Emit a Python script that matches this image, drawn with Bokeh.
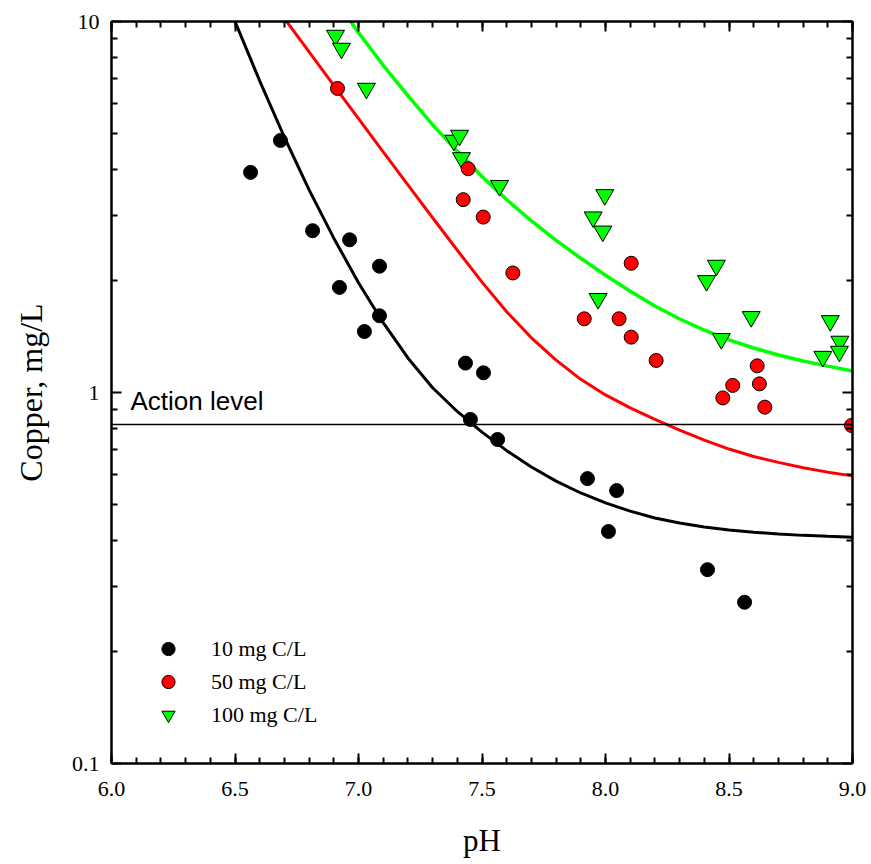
from bokeh.plotting import figure
from bokeh.models import (FixedTicker, LinearAxis, LogAxis, Span, Legend,
                          LegendItem, Label)
from bokeh.embed import file_html
from bokeh.resources import INLINE

# ---------------- data ----------------
# measured points
ph_10 = [6.563, 6.684, 6.814, 6.923, 6.964, 7.024, 7.085, 7.085, 7.433, 7.506,
         7.453, 7.563, 7.927, 8.045, 8.012, 8.413, 8.563]
cu_10 = [3.92, 4.78, 2.73, 1.92, 2.58, 1.46, 2.19, 1.61, 1.20, 1.13,
         0.846, 0.747, 0.586, 0.544, 0.422, 0.333, 0.272]

ph_50 = [6.915, 7.444, 7.424, 7.505, 7.625, 8.104, 7.914, 8.055, 8.104, 8.205,
         8.614, 8.515, 8.623, 8.475, 8.645, 8.996]
cu_50 = [6.6, 4.01, 3.31, 2.97, 2.10, 2.23, 1.58, 1.58, 1.41, 1.22,
         1.18, 1.045, 1.055, 0.967, 0.913, 0.815]

ph_100 = [6.907, 6.931, 7.032, 7.386, 7.409, 7.417, 7.571, 7.997, 7.950, 7.989,
          7.970, 8.449, 8.409, 8.590, 8.469, 8.910, 8.949, 8.947, 8.880]
cu_100 = [9.17, 8.46, 6.6, 4.78, 4.93, 4.29, 3.61, 3.41, 2.97, 2.72,
          1.79, 2.20, 2.00, 1.60, 1.396, 1.56, 1.373, 1.29, 1.25]

# fitted curves
fit_ph_10 = [6.45, 6.5, 6.6, 6.7, 6.8, 6.9, 7.0, 7.1, 7.2, 7.3, 7.4, 7.5, 7.6,
             7.7, 7.8, 7.9, 8.0, 8.1, 8.2, 8.3, 8.4, 8.5, 8.6, 8.7, 8.8, 8.9, 9.0]
fit_cu_10 = [12.05, 10.0, 6.918, 4.875, 3.516, 2.606, 1.977, 1.542, 1.239, 1.030,
             0.889, 0.782, 0.697, 0.630, 0.577, 0.536, 0.504, 0.479, 0.459,
             0.445, 0.434, 0.426, 0.420, 0.4154, 0.412, 0.4095, 0.4074]

fit_ph_50 = [6.7, 6.8, 6.9, 7.0, 7.1, 7.2, 7.3, 7.4, 7.5, 7.6, 7.7, 7.8, 7.9,
             8.0, 8.1, 8.2, 8.3, 8.4, 8.5, 8.6, 8.7, 8.8, 8.9, 9.0]
fit_cu_50 = [10.19, 8.279, 6.730, 5.470, 4.451, 3.627, 2.958, 2.418, 1.984,
             1.650, 1.404, 1.223, 1.085, 0.985, 0.909, 0.846, 0.792, 0.744,
             0.704, 0.672, 0.648, 0.627, 0.610, 0.596]

fit_ph_100 = [6.9, 7.0, 7.1, 7.2, 7.3, 7.4, 7.5, 7.6, 7.7, 7.8, 7.9, 8.0, 8.1,
              8.2, 8.3, 8.4, 8.5, 8.6, 8.7, 8.8, 8.9, 9.0]
fit_cu_100 = [11.61, 9.33, 7.62, 6.31, 5.27, 4.47, 3.82, 3.31, 2.90, 2.57, 2.30,
              2.070, 1.875, 1.710, 1.578, 1.472, 1.387, 1.318, 1.262, 1.216,
              1.178, 1.143]

action_level = 0.82
action_label = "Action level"
action_label_x = 6.077
action_label_y = 0.95

series_labels = ["10 mg C/L", "50 mg C/L", "100 mg C/L"]
x_title = "pH"
y_title = "Copper, mg/L"

x_major = [6.0, 6.5, 7.0, 7.5, 8.0, 8.5, 9.0]
x_minor = [round(6.0 + 0.1 * i, 1) for i in range(31)]
x_labels = ["6.0", "6.5", "7.0", "7.5", "8.0", "8.5", "9.0"]
y_major = [0.1, 1, 10]
y_minor = [0.2, 0.3, 0.4, 0.5, 0.6, 0.7, 0.8, 0.9, 2, 3, 4, 5, 6, 7, 8, 9]
y_labels = ["0.1", "1", "10"]

SERIF = "Liberation Serif"
SANS = "Liberation Sans"

# ---------------- figure ----------------
p = figure(width=868, height=862, x_range=(6.0, 9.0), y_range=(0.1, 10),
           y_axis_type="log", output_backend="svg", toolbar_location=None,
           min_border_left=111, min_border_right=16, min_border_top=21,
           min_border_bottom=99)
p.grid.visible = False
p.outline_line_color = None
p.background_fill_color = "white"
p.border_fill_color = "white"


def style_axis(ax, ticker, labels_on, overrides=None):
    ax.ticker = ticker
    ax.axis_line_width = 2.5
    ax.axis_line_color = "black"
    ax.major_tick_in = 10
    ax.major_tick_out = 0
    ax.minor_tick_in = 6
    ax.minor_tick_out = 0
    ax.major_tick_line_width = 2
    ax.minor_tick_line_width = 2
    ax.major_tick_line_color = "black"
    ax.minor_tick_line_color = "black"
    if labels_on:
        ax.major_label_text_font = SERIF
        ax.major_label_text_font_size = "22px"
        ax.major_label_text_color = "black"
        if overrides:
            ax.major_label_overrides = overrides
    else:
        ax.major_label_text_font_size = "8px"
        ax.major_label_text_alpha = 0
        ax.major_label_standoff = 0


xt = FixedTicker(ticks=x_major, minor_ticks=x_minor)
yt = FixedTicker(ticks=y_major, minor_ticks=y_minor)

bottom = p.below[0]
style_axis(bottom, xt, True, {v: s for v, s in zip(x_major, x_labels)})
bottom.major_label_standoff = 18
bottom.axis_label = x_title
bottom.axis_label_text_font = SERIF
bottom.axis_label_text_font_size = "31px"
bottom.axis_label_text_font_style = "normal"
bottom.axis_label_text_color = "black"
bottom.axis_label_standoff = 24

left = p.left[0]
style_axis(left, yt, True, {v: s for v, s in zip(y_major, y_labels)})
left.major_label_standoff = 12
left.axis_label = y_title
left.axis_label_text_font = SERIF
left.axis_label_text_font_size = "32px"
left.axis_label_text_font_style = "normal"
left.axis_label_text_color = "black"
left.axis_label_standoff = 20

top = LinearAxis()
style_axis(top, FixedTicker(ticks=x_major, minor_ticks=x_minor), False)
p.add_layout(top, "above")

right = LogAxis()
style_axis(right, FixedTicker(ticks=y_major, minor_ticks=y_minor), False)
p.add_layout(right, "right")

# action level
p.add_layout(Span(location=action_level, dimension="width", line_color="black",
                  line_width=1.5))
p.add_layout(Label(x=action_label_x, y=action_label_y, text=action_label,
                   text_font=SANS, text_font_size="26px", text_color="black",
                   text_baseline="alphabetic"))

# fitted curves
p.line(fit_ph_10, fit_cu_10, line_color="black", line_width=3)
p.line(fit_ph_50, fit_cu_50, line_color="#ff0000", line_width=3)
p.line(fit_ph_100, fit_cu_100, line_color="#00ff00", line_width=3.5)

# points
r100 = p.scatter(ph_100, cu_100, marker="inverted_triangle", size=18,
                 fill_color="#00ff00", line_color="black", line_width=1)
r50 = p.scatter(ph_50, cu_50, marker="circle", size=14,
                fill_color="#ff0000", line_color="black", line_width=1)
r10 = p.scatter(ph_10, cu_10, marker="circle", size=14,
                fill_color="black", line_color="black", line_width=1)

legend = Legend(items=[LegendItem(label=series_labels[0], renderers=[r10]),
                       LegendItem(label=series_labels[1], renderers=[r50]),
                       LegendItem(label=series_labels[2], renderers=[r100])],
                location=(39, 32), border_line_color=None,
                background_fill_alpha=0, glyph_width=36, glyph_height=33,
                label_height=33, spacing=0, padding=10, label_standoff=25,
                label_text_font=SERIF, label_text_font_size="22px",
                label_text_color="black")
p.add_layout(legend)

open("out.html", "w").write(file_html(p, INLINE))
